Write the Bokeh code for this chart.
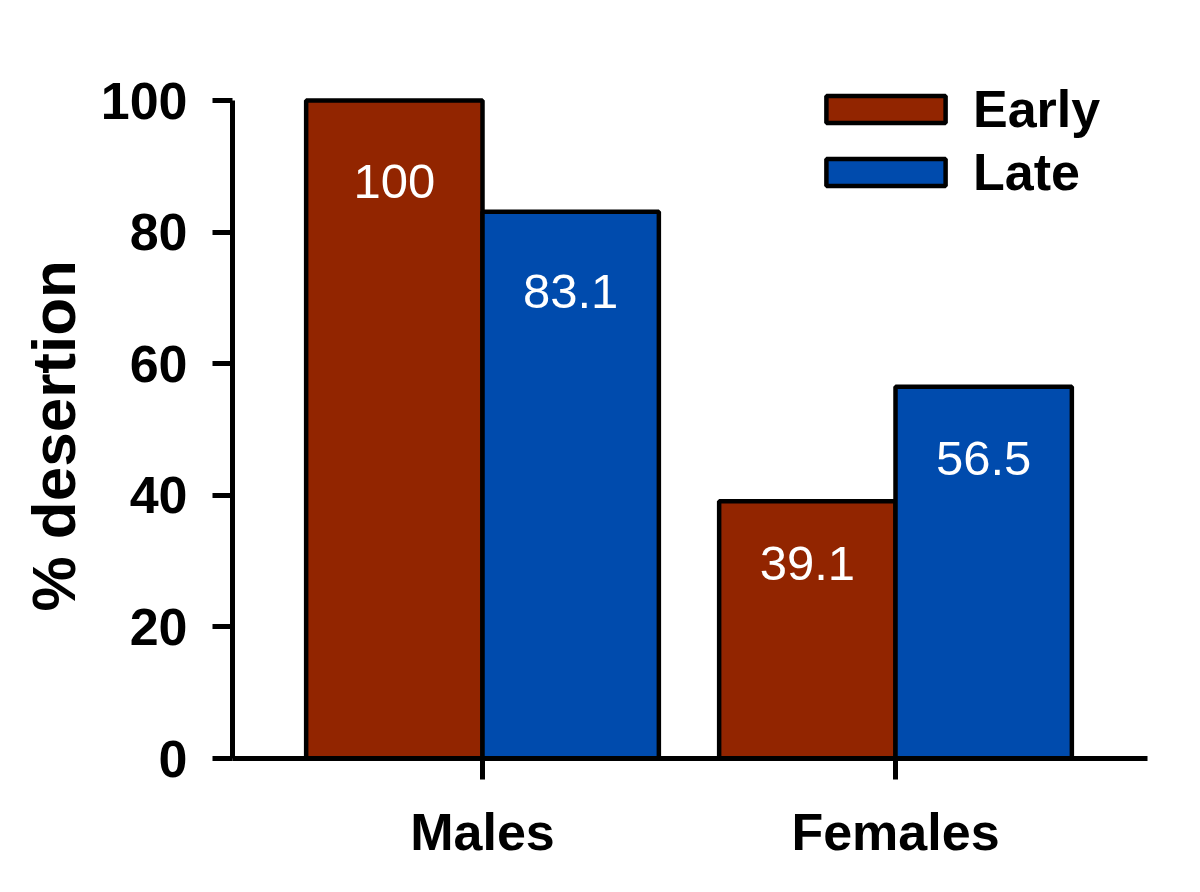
from bokeh.plotting import figure
from bokeh.models import Legend, LegendItem, FixedTicker, ColumnDataSource, Range1d, Title
from bokeh.embed import file_html
from bokeh.resources import INLINE
from bokeh.core.properties import value

# ---- data ----
groups = ["Males", "Females"]
series = ["Early", "Late"]
early = [100, 39.1]
late = [83.1, 56.5]
y_ticks = [0, 20, 40, 60, 80, 100]
y_title = "% desertion"

# ---- styles ----
EARLY_COLOR = "#922500"
LATE_COLOR = "#004BAD"
FONT = "Liberation Sans"
early_label_drop = [81, 62]   # px from bar top to label baseline
late_label_drop = [80, 72]

pos = [1, 2]
bw = 0.427

p = figure(width=1200, height=892, output_backend="svg", toolbar_location=None,
           x_range=Range1d(0.39467, 2.66586), y_range=Range1d(0, 106.08),
           min_border_left=232, min_border_right=30, min_border_top=60,
           min_border_bottom=134)
p.outline_line_color = None
p.xgrid.grid_line_color = None
p.ygrid.grid_line_color = None
p.background_fill_color = "white"
p.border_fill_color = "white"

src_e = ColumnDataSource(dict(x=[g - bw / 2 for g in pos], top=early,
                              lab=[f"{v:g}" for v in early], dy=early_label_drop))
src_l = ColumnDataSource(dict(x=[g + bw / 2 for g in pos], top=late,
                              lab=[f"{v:g}" for v in late], dy=late_label_drop))

r_e = p.vbar(x="x", top="top", bottom=0, width=bw, source=src_e,
             fill_color=EARLY_COLOR, line_color="black", line_width=4.5)
r_l = p.vbar(x="x", top="top", bottom=0, width=bw, source=src_l,
             fill_color=LATE_COLOR, line_color="black", line_width=4.5)

for src in (src_e, src_l):
    p.text(x="x", y="top", text="lab", y_offset="dy", source=src,
           text_color="white", text_font=value(FONT), text_font_size="49px",
           text_align="center", text_baseline="alphabetic")

# x axis
xa = p.xaxis[0]
xa.ticker = FixedTicker(ticks=pos)
xa.major_label_overrides = {pos[i]: groups[i] for i in range(len(groups))}
xa.bounds = (0.34625, 2.61017)
xa.axis_line_width = 5
xa.major_tick_line_width = 5
xa.major_tick_out = 21
xa.major_tick_in = 0
xa.minor_tick_line_color = None
xa.major_label_text_font = FONT
xa.major_label_text_font_style = "bold"
xa.major_label_text_font_size = "52px"
xa.major_label_text_color = "black"
xa.major_label_standoff = 23

# y axis
ya = p.yaxis[0]
ya.ticker = FixedTicker(ticks=y_ticks)
ya.bounds = (0, 100)
ya.axis_line_width = 5
ya.major_tick_line_width = 5
ya.major_tick_out = 20
ya.major_tick_in = 0
ya.minor_tick_line_color = None
ya.major_label_text_font = FONT
ya.major_label_text_font_style = "bold"
ya.major_label_text_font_size = "52px"
ya.major_label_text_color = "black"
ya.major_label_standoff = 25

# y-axis title, placed along the 0-100 axis line
p.add_layout(Title(text=y_title, align="left", offset=147, standoff=20,
                   text_font=FONT, text_font_style="bold",
                   text_font_size="62px", text_color="black"), "left")

legend = Legend(items=[LegendItem(label=series[0], renderers=[r_e]),
                       LegendItem(label=series[1], renderers=[r_l])],
                location=(579, 556), glyph_width=149, glyph_height=34,
                label_text_font=FONT, label_text_font_style="bold",
                label_text_font_size="52px", label_text_color="black",
                label_standoff=13, spacing=3,
                padding=0, margin=0, border_line_color=None,
                background_fill_alpha=0)
p.add_layout(legend)

open("out.html", "w").write(file_html(p, INLINE))
